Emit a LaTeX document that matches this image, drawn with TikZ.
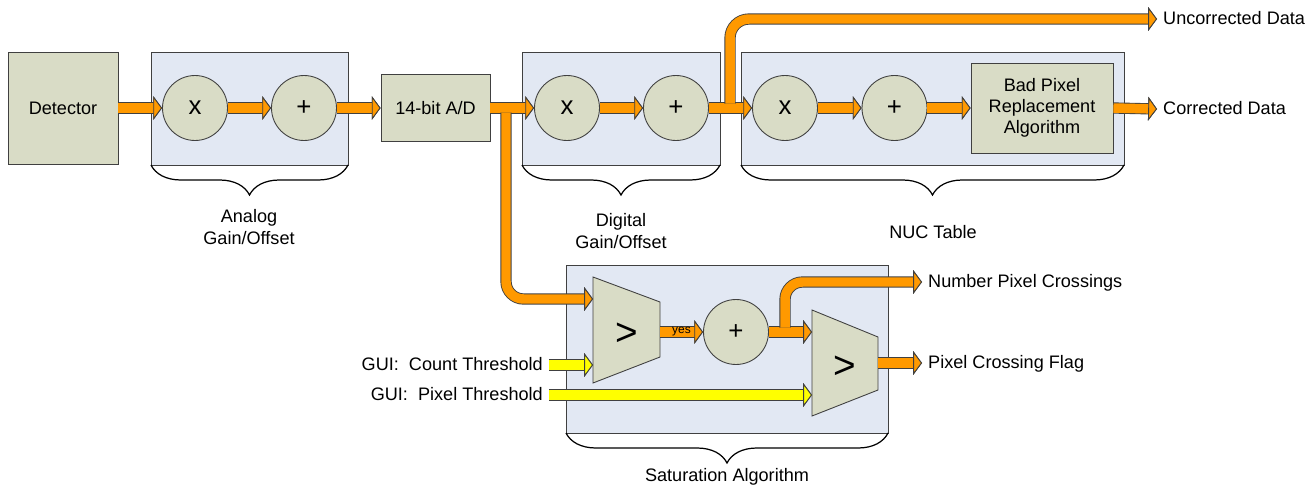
\documentclass[tikz,border=0pt]{standalone}
\usepackage{fontspec}
\setmainfont{Liberation Sans}
\usetikzlibrary{arrows.meta, positioning, decorations.pathreplacing}

\definecolor{boxfill}{HTML}{D9DCC6}
\definecolor{panelfill}{HTML}{E2E8F3}
\definecolor{linegray}{HTML}{404040}
\definecolor{floworange}{HTML}{FF9900}
\definecolor{guiyellow}{HTML}{FFFF00}

\begin{document}
\begin{tikzpicture}[x=0.02cm, y=-0.02cm,
    font=\fontsize{10.3}{13}\selectfont,
    block/.style={draw=linegray, fill=boxfill, line width=0.5pt, align=center},
    op/.style={circle, draw=linegray, fill=boxfill, line width=0.5pt, minimum size=1.3cm, inner sep=0pt,
      font=\fontsize{14.7}{16}\selectfont},
    panel/.style={draw=linegray, fill=panelfill, line width=0.5pt},
    cmp/.style={draw=linegray, fill=boxfill, line width=0.5pt},
    curly/.style={draw=black, line width=0.7pt, decorate, decoration={brace, mirror, amplitude=0.6cm}},
    flow/.style={preaction={draw=linegray, line width=6.4pt}, draw=#1, line width=5.4pt,
      -{Triangle[length=5pt, width=13.5pt, line width=0.5pt, color=linegray, fill=#1]}},
    flow/.default=floworange,
    outlbl/.style={anchor=west, text height=1.6ex, text depth=0.4ex},
    guilbl/.style={anchor=east, text height=1.6ex, text depth=0.4ex}]
  \useasboundingbox (0,0) rectangle (1316,487);

  % panels
  \draw[panel] (151,52) rectangle (348,165);
  \draw[panel] (522,52) rectangle (720,165);
  \draw[panel] (741,52) rectangle (1124,165);
  \draw[panel] (566,265) rectangle (888,433);

  % braces and their labels
  \draw[curly] (151,165) -- (348,165);
  \draw[curly] (522,165) -- (720,165);
  \draw[curly] (741,165) -- (1124,165);
  \draw[curly] (566,433) -- (888,433);
  \node[align=center] (analoglbl) at (249,227) {Analog\\Gain/Offset};
  \node[align=center] (digitallbl) at (621,231) {Digital\\Gain/Offset};
  \node (nuclbl) at (933,232) {NUC Table};
  \node (satlbl) at (727,477) {Saturation Algorithm};

  % main chain
  \node[block, minimum width=2.2cm, minimum height=2.24cm] (det) at (63,108) {Detector};
  \node[op] (mulA) at (195,108) {x};
  \node[op] (addA) at (304,108) {+};
  \node[block, minimum width=2.18cm, minimum height=1.34cm] (ad) at (435.5,108) {14-bit A/D};
  \node[op] (mulD) at (567,108) {x};
  \node[op] (addD) at (676,108) {+};
  \node[op] (mulN) at (785,108) {x};
  \node[op] (addN) at (894.5,108) {+};
  \node[block, minimum width=2.84cm, minimum height=1.8cm, font=\fontsize{10.3}{12}\selectfont] (bpr) at (1042,108) {Bad Pixel\\Replacement\\Algorithm};

  % comparators
  \draw[cmp] (593,277) -- (660,302) -- (660,357) -- (593,383) -- cycle;
  \draw[cmp] (812,310) -- (878,337) -- (878,390) -- (812,416) -- cycle;
  \node[font=\fontsize{22}{24}\selectfont] (cmpA) at (626.5,334) {>};
  \node[font=\fontsize{22}{24}\selectfont] (cmpB) at (845,367) {>};
  \node[op] (addS) at (736,332) {+};
  \coordinate (cmpAin1) at (593,299);
  \coordinate (cmpAin2) at (593,365);
  \coordinate (cmpAout) at (660,332);
  \coordinate (cmpBin1) at (812,332);
  \coordinate (cmpBin2) at (812,395);
  \coordinate (cmpBout) at (878,363);

  % outputs and inputs
  \node[outlbl] (uncorr) at (1157,19) {Uncorrected Data};
  \node[outlbl] (corr) at (1157,109) {Corrected Data};
  \node[outlbl] (numlbl) at (922,282) {Number Pixel Crossings};
  \node[outlbl] (flaglbl) at (922,363) {Pixel Crossing Flag};
  \node[guilbl] (guicount) at (549,365) {GUI:\ \ Count Threshold};
  \node[guilbl] (guipix) at (549,395) {GUI:\ \ Pixel Threshold};

  % data flow
  \draw[flow] (det.east) -- (mulA.west);
  \draw[flow] (mulA) -- (addA);
  \draw[flow] (addA.east) -- (ad.west);
  \draw[flow] (ad.east) -- (mulD.west);
  \draw[flow] (mulD) -- (addD);
  \draw[flow] (addD) -- (mulN);
  \draw[flow] (mulN) -- (addN);
  \draw[flow] (addN.east) -- (bpr.west);
  \draw[flow] (bpr.east) -- (corr.west);
  \draw[flow] (cmpAout) -- node[font=\fontsize{6.8}{7}\selectfont, inner sep=0pt] (yes) {yes} (addS.west);
  \draw[flow] (addS.east) -- (cmpBin1);
  \draw[flow] (cmpBout) -- (flaglbl.west);
  \draw[flow=guiyellow] (guicount.east) -- (cmpAin2);
  \draw[flow=guiyellow] (guipix.east) -- (cmpBin2);

  % branches
  \coordinate (tapN) at (730,103.5);
  \coordinate (tapAD) at (506,112.5);
  \coordinate (tapS) at (785,327.5);
  \draw[flow, rounded corners=0.38cm] (tapN) |- (uncorr.west);
  \draw[flow, rounded corners=0.35cm] (tapAD) |- (cmpAin1);
  \draw[flow, rounded corners=0.35cm] (tapS) |- (numlbl.west);
\end{tikzpicture}
\end{document}
